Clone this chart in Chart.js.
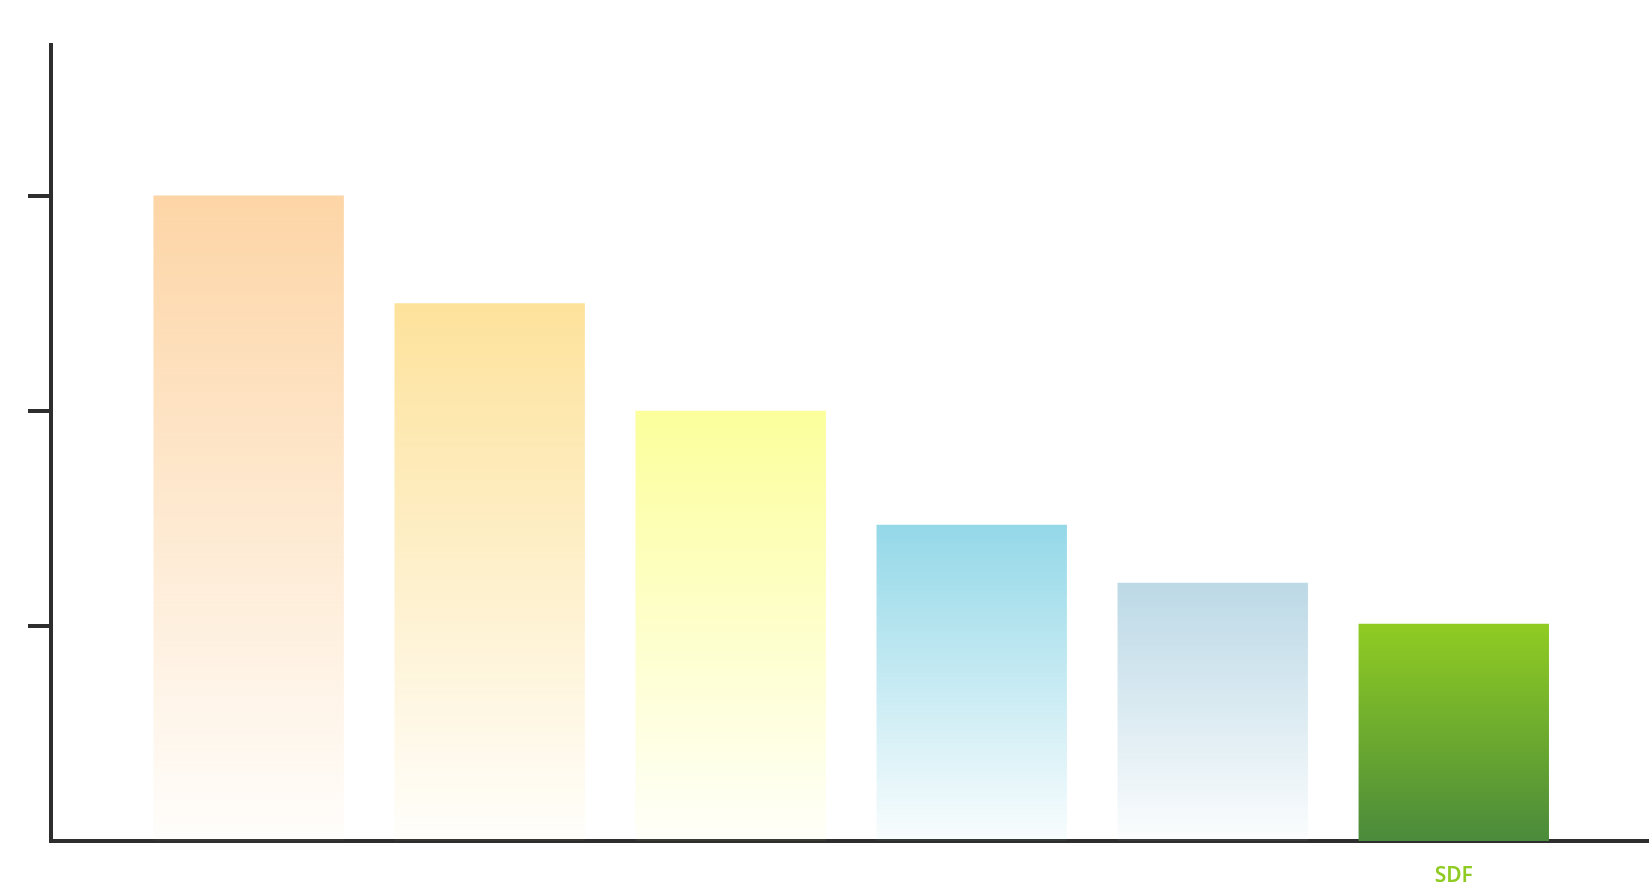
<!DOCTYPE html>
<html>
<head>
<meta charset="utf-8">
<script src="https://cdn.jsdelivr.net/npm/chart.js@4/dist/chart.umd.min.js"></script>
<style>
  html, body { margin: 0; padding: 0; background: #fff; }
  #wrap { width: 1649px; height: 888px; }
</style>
</head>
<body>
<div id="wrap"><canvas id="myChart"></canvas></div>
<script>
// categories: only the last one carries a visible name in the picture
const categories = ["", "", "", "", "", "SDF"];
const values = [300, 250, 200, 147, 120, 101];
const yTicks = [100, 200, 300];

// top / bottom colours of each bar gradient
const topColors = ["#fdd5a6", "#fde29b", "#fcff9b", "#94d8e8", "#bcd9e6", "#90cc22"];
const bottomColors = ["rgba(253,213,166,0.04)", "rgba(253,226,155,0.04)", "rgba(252,255,155,0.06)",
  "rgba(148,216,232,0.06)", "rgba(188,217,230,0.06)", "#4b8a3b"];

const axisColor = "#2e2e2e";

function barGradient(ctx) {
  const chart = ctx.chart;
  const i = ctx.dataIndex;
  if (!chart.chartArea || i === undefined) return topColors[i || 0];
  const y = chart.scales.y;
  const top = y.getPixelForValue(values[i]);
  const bottom = y.getPixelForValue(0);
  const g = chart.ctx.createLinearGradient(0, top, 0, bottom);
  g.addColorStop(0, topColors[i]);
  g.addColorStop(1, bottomColors[i]);
  return g;
}

new Chart("myChart", {
  type: "bar",
  data: {
    datasets: [{
      data: categories.map((c, i) => ({x: i, y: values[i]})),
      backgroundColor: barGradient,
      borderWidth: 0,
      categoryPercentage: 1,
      barPercentage: 0.79
    }]
  },
  options: {
    responsive: true,
    maintainAspectRatio: false,
    animation: false,
    layout: {padding: {left: 28, top: 45, right: 0, bottom: 0}},
    plugins: {legend: {display: false}, tooltip: {enabled: false}},
    scales: {
      x: {
        type: "linear",
        offset: false,
        min: -0.82,
        max: 5.81,
        z: 1,
        afterBuildTicks: (scale) => { scale.ticks = categories.map((c, i) => ({value: i})); },
        afterFit: (scale) => { scale.height = 47; },
        grid: {display: false, drawTicks: false, offset: false},
        border: {display: true, color: axisColor, width: 4},
        ticks: {
          autoSkip: false,
          maxRotation: 0,
          padding: 22,
          color: "#8fcb22",
          font: {family: "Noto Sans", size: 21, weight: 600},
          callback: (v) => categories[v] ?? ""
        }
      },
      y: {
        min: 0,
        max: 370,
        z: 1,
        afterBuildTicks: (scale) => { scale.ticks = yTicks.map(v => ({value: v})); },
        grid: {display: true, drawOnChartArea: false, drawTicks: true, tickLength: 23, color: axisColor, lineWidth: 4},
        border: {display: true, color: axisColor, width: 4},
        ticks: {display: false}
      }
    }
  }
});
</script>
</body>
</html>
